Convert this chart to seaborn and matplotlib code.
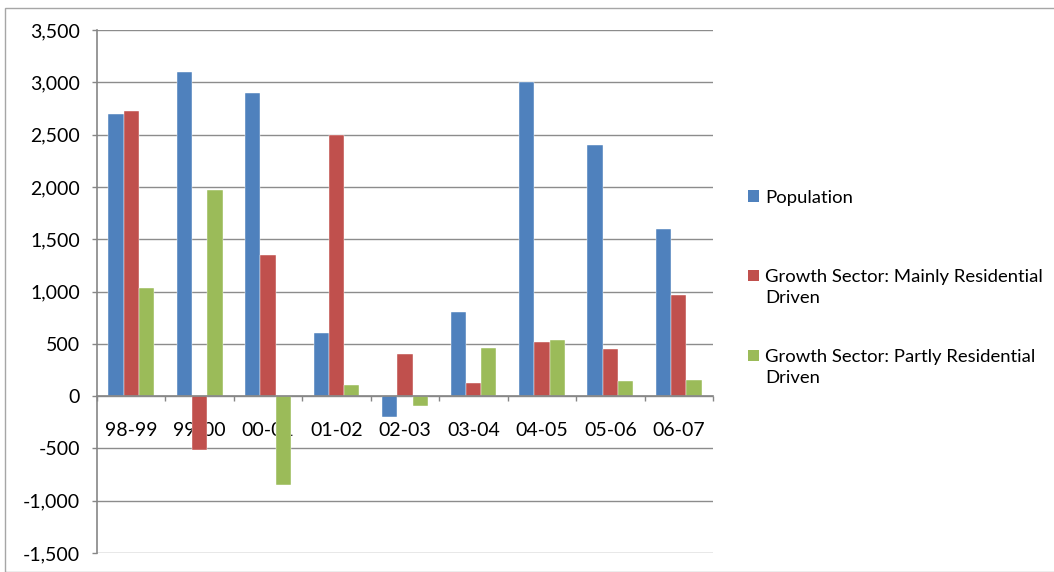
import matplotlib
matplotlib.use("Agg")
import matplotlib.pyplot as plt
from matplotlib.patches import Rectangle
from matplotlib.ticker import FuncFormatter, FixedLocator
import pandas as pd
import seaborn as sns

# Annual change by period
periods = ["98-99", "99-00", "00-01", "01-02", "02-03", "03-04", "04-05", "05-06", "06-07"]
population = [2700, 3100, 2900, 600, -200, 800, 3000, 2400, 1600]
mainly_residential = [2730, -520, 1350, 2500, 400, 130, 520, 450, 970]
partly_residential = [1030, 1970, -850, 110, -90, 460, 540, 140, 150]

series_names = [
    "Population",
    "Growth Sector: Mainly Residential\nDriven",
    "Growth Sector: Partly Residential\nDriven",
]
series_colors = ["#4F81BD", "#C0504D", "#9BBB59"]
y_ticks = list(range(-1500, 3501, 500))

frames = []
for name, vals in zip(series_names, [population, mainly_residential, partly_residential]):
    frames.append(pd.DataFrame({"period": periods, "value": vals, "series": name}))
df = pd.concat(frames, ignore_index=True)

sns.set_theme(style="white")
plt.rcParams["font.family"] = ["Lato", "DejaVu Sans"]

W, H = 1054, 572
fig = plt.figure(figsize=(W / 100, H / 100), dpi=100)
fig.patch.set_facecolor("white")

# outer chart frame
fig.patches.append(Rectangle((5 / W, 0), 1.0, 1 - 8 / H, transform=fig.transFigure,
                             fill=False, edgecolor="#a6a6a6", linewidth=1.0))

ax = fig.add_axes([97 / W, 1 - 553 / H, (713 - 97) / W, (553 - 30) / H])
sns.barplot(data=df, x="period", y="value", hue="series", order=periods,
            hue_order=series_names, palette=series_colors, saturation=1,
            width=0.67, legend=False, ax=ax, edgecolor="white", linewidth=0.3)

axis_gray = "#868686"
ax.set_ylim(-1500, 3500)
ax.set_xlim(-0.5, len(periods) - 0.5)
ax.yaxis.set_major_locator(FixedLocator(y_ticks))
ax.yaxis.set_major_formatter(FuncFormatter(lambda v, p: f"{int(v):,}"))
ax.yaxis.grid(True, color="#8c8c8c", linewidth=1.0)
ax.set_axisbelow(True)
ax.set_xlabel("")
ax.set_ylabel("")

for s in ["top", "right"]:
    ax.spines[s].set_visible(False)
ax.spines["left"].set_color(axis_gray)
ax.spines["left"].set_linewidth(1.2)
ax.spines["bottom"].set_position(("data", 0))
ax.spines["bottom"].set_color(axis_gray)
ax.spines["bottom"].set_linewidth(1.2)

ax.tick_params(axis="y", which="major", direction="out", length=3.6, width=1,
               color=axis_gray, pad=8.5, labelsize=14, labelcolor="black", left=True)
ax.xaxis.set_minor_locator(FixedLocator([i - 0.5 for i in range(len(periods) + 1)]))
ax.tick_params(axis="x", which="minor", direction="out", length=3.6, width=1,
               color=axis_gray, bottom=True)
ax.tick_params(axis="x", which="major", length=0, pad=19, labelsize=14, labelcolor="black")

# legend
for i, (name, color) in enumerate(zip(series_names, series_colors)):
    yc = [196, 275, 355][i]
    fig.patches.append(Rectangle((748 / W, 1 - (yc + 5.5) / H), 11 / W, 11 / H,
                                 transform=fig.transFigure, facecolor=color,
                                 edgecolor="none"))
    fig.text(765 / W, 1 - (yc - 6) / H, name, ha="left", va="top",
             fontsize=13.3, color="black", linespacing=1.36)

fig.savefig("out.png", dpi=100, facecolor="white")
